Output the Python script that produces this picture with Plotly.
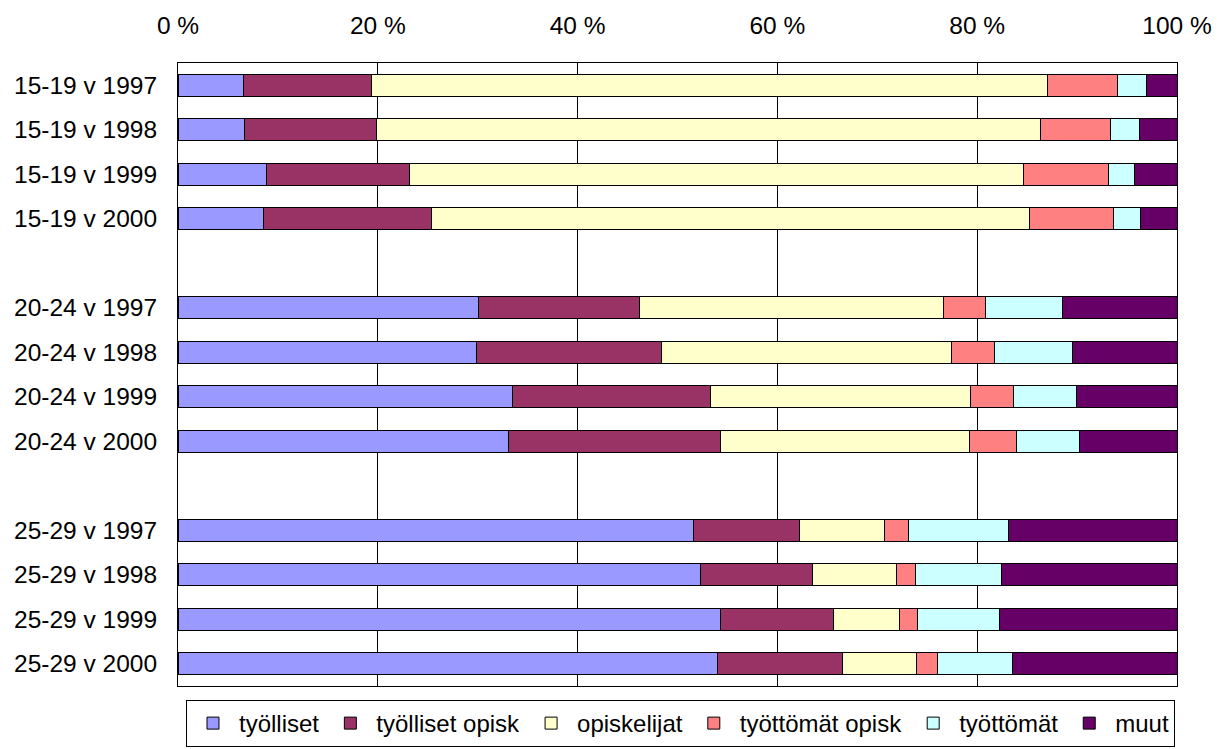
import plotly.graph_objects as go

categories = [
    "15-19 v 1997", "15-19 v 1998", "15-19 v 1999", "15-19 v 2000", None,
    "20-24 v 1997", "20-24 v 1998", "20-24 v 1999", "20-24 v 2000", None,
    "25-29 v 1997", "25-29 v 1998", "25-29 v 1999", "25-29 v 2000",
]

tyolliset = [6.6, 6.7, 8.9, 8.6, 30.1, 29.9, 33.5, 33.1, 51.6, 52.3, 54.3, 54.0]
tyolliset_opisk = [12.8, 13.2, 14.3, 16.8, 16.1, 18.5, 19.8, 21.2, 10.6, 11.2, 11.3, 12.5]
opiskelijat = [67.6, 66.4, 61.4, 59.8, 30.4, 29.0, 26.0, 24.9, 8.5, 8.4, 6.6, 7.4]
tyottomat_opisk = [7.0, 7.0, 8.5, 8.4, 4.2, 4.3, 4.3, 4.7, 2.4, 1.9, 1.8, 2.1]
tyottomat = [2.9, 2.9, 2.6, 2.7, 7.7, 7.8, 6.3, 6.3, 10.0, 8.6, 8.2, 7.5]
muut = [3.1, 3.8, 4.3, 3.7, 11.5, 10.5, 10.1, 9.8, 16.9, 17.6, 17.8, 16.5]

series_names = ["työlliset", "työlliset opisk", "opiskelijat",
                "työttömät opisk", "työttömät", "muut"]
series_values = [tyolliset, tyolliset_opisk, opiskelijat,
                 tyottomat_opisk, tyottomat, muut]
colors = ["#9999FF", "#993366", "#FFFFCC", "#FF8080", "#CCFFFF", "#660066"]

x_tick_values = [0, 20, 40, 60, 80, 100]
x_tick_labels = ["0 %", "20 %", "40 %", "60 %", "80 %", "100 %"]

positions = [i for i, c in enumerate(categories) if c is not None]
labels = [c for c in categories if c is not None]

FONT = "Liberation Sans, Arial, sans-serif"

fig = go.Figure()
for name, vals, col in zip(series_names, series_values, colors):
    fig.add_trace(go.Bar(
        x=vals, y=positions, name=name, orientation="h",
        marker=dict(color=col, line=dict(color="#000000", width=1)),
    ))

# page body has an 8px default margin, so the figure is 8px smaller
fig.update_layout(
    barmode="stack",
    bargap=0.5,
    width=1213, height=741,
    margin=dict(l=170, r=44, t=55, b=63, autoexpand=False),
    paper_bgcolor="white", plot_bgcolor="white",
    font=dict(family=FONT, size=24.5, color="#000000"),
    showlegend=True,
    legend=dict(
        orientation="h", x=0.503, xanchor="center", y=-0.0225, yanchor="top",
        bordercolor="#000000", borderwidth=1, bgcolor="white",
        font=dict(family=FONT, size=24, color="#000000"),
        traceorder="normal", itemwidth=42,
    ),
)

fig.update_xaxes(
    side="top", range=[0, 100], tickvals=x_tick_values, ticktext=x_tick_labels,
    showgrid=True, gridcolor="#000000", gridwidth=1,
    showline=True, linecolor="#000000", linewidth=1, mirror=True,
    zeroline=False, ticks="", ticklabelstandoff=18,
)
fig.update_yaxes(
    range=[len(categories) - 0.5, -0.5], tickvals=positions, ticktext=labels,
    showgrid=False, zeroline=False,
    showline=True, linecolor="#000000", linewidth=1, mirror=True,
    ticks="", ticklabelstandoff=15,
)

fig.write_html("out.html")
